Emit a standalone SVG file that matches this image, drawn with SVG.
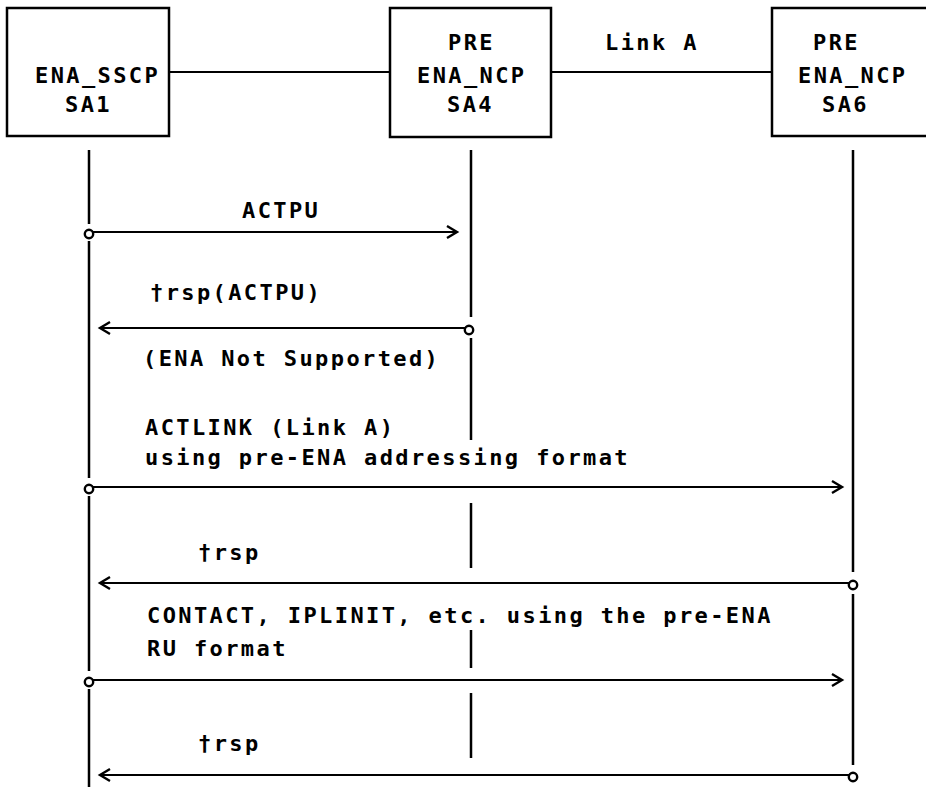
<svg xmlns="http://www.w3.org/2000/svg" width="926" height="787" viewBox="0 0 926 787">
<style>
.box{fill:#fff;stroke:#000;stroke-width:2.5}
.t{font-family:"DejaVu Sans Mono","Liberation Mono",monospace;font-weight:bold;font-size:22px;letter-spacing:2.4px;fill:#000}
.ln{stroke:#000;stroke-width:2;fill:none}
.life{stroke:#000;stroke-width:2.5;fill:none}
</style>
<defs>
<marker id="arr" markerUnits="userSpaceOnUse" markerWidth="14" markerHeight="16" refX="11" refY="7" orient="auto" overflow="visible">
<path d="M1,1 L11,7 L1,13" fill="none" stroke="#000" stroke-width="2.4"/>
</marker>
<marker id="dot" markerUnits="userSpaceOnUse" markerWidth="12" markerHeight="12" refX="6" refY="6" orient="0" overflow="visible">
<circle cx="6" cy="8" r="4.2" fill="#fff" stroke="#000" stroke-width="2.4"/>
</marker>
</defs>
<rect width="926" height="787" fill="#fff"/>

<g id="links">
<line class="ln" x1="169" y1="72" x2="390" y2="72"/>
<line class="ln" x1="551" y1="72" x2="772" y2="72"/>
<text class="t" x="605" y="50">Link A</text>
</g>

<g id="node-sa1">
<rect class="box" x="7" y="8" width="162" height="128"/>
<text class="t" x="35" y="83">ENA_SSCP</text>
<text class="t" x="65" y="112">SA1</text>
</g>
<g id="node-sa4">
<rect class="box" x="390" y="8" width="161" height="129"/>
<text class="t" x="448" y="50">PRE</text>
<text class="t" x="417" y="83">ENA_NCP</text>
<text class="t" x="447" y="112">SA4</text>
</g>
<g id="node-sa6">
<rect class="box" x="772" y="8" width="170" height="128"/>
<text class="t" x="813" y="50">PRE</text>
<text class="t" x="798" y="83">ENA_NCP</text>
<text class="t" x="822" y="112">SA6</text>
</g>

<g id="lifelines">
<path class="life" d="M89,150V224 M89,241V478 M89,496V671 M89,689V787"/>
<path class="life" d="M471,150V317 M471,338V440 M471,503V568 M471,630V668 M471,693V758"/>
<path class="life" d="M853,150V572 M853,594V765"/>
</g>

<g id="connectors">
<line class="ln" x1="89" y1="232" x2="457" y2="232" marker-start="url(#dot)" marker-end="url(#arr)"/>
<line class="ln" x1="469" y1="328" x2="100" y2="328" marker-start="url(#dot)" marker-end="url(#arr)"/>
<line class="ln" x1="89" y1="487" x2="842" y2="487" marker-start="url(#dot)" marker-end="url(#arr)"/>
<line class="ln" x1="853" y1="583" x2="100" y2="583" marker-start="url(#dot)" marker-end="url(#arr)"/>
<line class="ln" x1="89" y1="680" x2="842" y2="680" marker-start="url(#dot)" marker-end="url(#arr)"/>
<line class="ln" x1="853" y1="775" x2="100" y2="775" marker-start="url(#dot)" marker-end="url(#arr)"/>
</g>

<g id="labels">
<text class="t" x="242" y="218">ACTPU</text>
<text class="t" x="150" y="300">†rsp(ACTPU)</text>
<text class="t" x="143" y="366">(ENA Not Supported)</text>
<text class="t" x="145" y="435">ACTLINK (Link A)</text>
<text class="t" x="145" y="465">using pre-ENA addressing format</text>
<text class="t" x="198" y="560">†rsp</text>
<text class="t" x="147" y="623">CONTACT, IPLINIT, etc. using the pre-ENA</text>
<text class="t" x="147" y="656">RU format</text>
<text class="t" x="198" y="751">†rsp</text>
</g>
</svg>
